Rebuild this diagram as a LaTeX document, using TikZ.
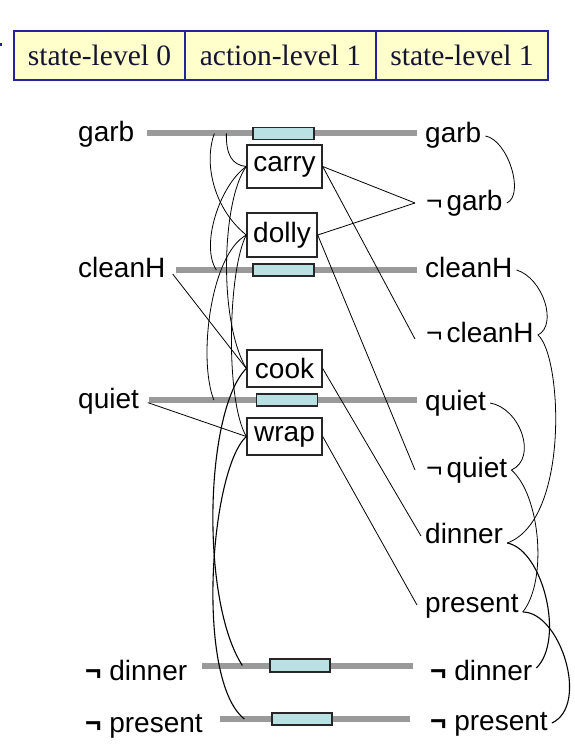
\documentclass[tikz,border=0pt]{standalone}
\usepackage{fontspec}
\setmainfont{Liberation Serif}
\newfontfamily\arialf{Liberation Sans}
\usetikzlibrary{calc}
\pgfdeclarelayer{bg}
\pgfsetlayers{bg,main}
\definecolor{hdrfill}{HTML}{FFFFCC}
\definecolor{hdrline}{HTML}{2323A0}
\definecolor{hdrtext}{HTML}{141432}
\definecolor{noopfill}{HTML}{B9E0E2}
\definecolor{persistgray}{HTML}{9A9A9A}
\newcommand{\thinneg}{¬\hspace{4pt}}
\begin{document}
\begin{tikzpicture}[x=1pt,y=-1pt,
  hdr/.style={draw=hdrline, fill=hdrfill, line width=1.5pt, minimum height=49pt, inner sep=0pt,
    font=\fontsize{29.5}{32}\selectfont, text=hdrtext, anchor=center},
  prop/.style={font=\arialf\fontsize{28}{30}\selectfont, inner xsep=4pt, inner ysep=0pt,
    text height=19pt, text depth=5pt, anchor=base west},
  act/.style={draw=black!85, line width=1.4pt, fill=white, font=\arialf\fontsize{28}{30}\selectfont, inner sep=0pt},
  noop/.style={draw=black!85, line width=1.3pt, fill=noopfill, minimum width=61pt, minimum height=12pt, inner sep=0pt},
  persist/.style={draw=persistgray, line width=6pt},
  link/.style={draw=black, line width=0.8pt},
  mutex/.style={draw=black, line width=0.8pt},
  mutexs/.style={draw=black, line width=1.1pt}
]
\useasboundingbox (0,0) rectangle (574,746);

% header
\node[hdr, minimum width=171pt] (h0) at (99.5,55.5) {state-level 0};
\node[hdr, minimum width=191pt] (h1) at (280.5,55.5) {action-level 1};
\node[hdr, minimum width=172pt] (h2) at (462,55.5) {state-level 1};
\fill[hdrline] (0,43) rectangle (2,46);

% state level 0
\node[prop] (garbL) at (74,142) {garb};
\node[prop] (cleanL) at (74,277) {cleanH};
\node[prop] (quietL) at (74,408) {quiet};
\node[prop] (ndinL) at (81,680) {{\bfseries ¬} dinner};
\node[prop] (npreL) at (81,732) {{\bfseries ¬} present};

% state level 1
\node[prop] (garbR) at (421,143) {garb};
\node[prop] (ngarbR) at (422,210) {\thinneg garb};
\node[prop] (cleanR) at (421,277) {cleanH};
\node[prop] (ncleanR) at (422,342) {\thinneg cleanH};
\node[prop] (quietR) at (421,410) {quiet};
\node[prop] (nquietR) at (422,477) {\thinneg quiet};
\node[prop] (dinnerR) at (421,543) {dinner};
\node[prop] (presentR) at (421,612) {present};
\node[prop] (ndinR) at (426,680) {{\bfseries ¬} dinner};
\node[prop] (npreR) at (426,730) {{\bfseries ¬} present};

% no-op actions
\node[noop] (noopG) at (283.5,133.5) {};
\node[noop] (noopC) at (283.5,270) {};
\node[noop] (noopQ) at (287,400) {};
\node[noop, minimum width=60pt, minimum height=13pt] (noopD) at (300,665.5) {};
\node[noop, minimum width=60pt] (noopP) at (302,719) {};

% actions
\node[act, minimum width=75pt, minimum height=43pt] (carry) at (284.5,166.5) {carry};
\node[act, minimum width=70pt, minimum height=44pt] (dolly) at (282,235) {dolly};
\node[act, minimum width=75pt, minimum height=37pt] (cook) at (284.5,368.5) {cook};
\node[act, minimum width=75pt, minimum height=37pt] (wrap) at (284.5,436.5) {wrap};

% persistence lines
\begin{pgfonlayer}{bg}
\draw[persist, shorten <=9pt, shorten >=4pt] (garbL.east |- noopG.center) -- (garbR.west |- noopG.center);
\draw[persist, shorten <=6pt, shorten >=4pt] (cleanL.east |- noopC.center) -- (cleanR.west |- noopC.center);
\draw[persist, shorten <=6pt, shorten >=4pt] (quietL.east |- noopQ.center) -- (quietR.west |- noopQ.center);
\draw[persist, shorten <=11pt, shorten >=13pt] (ndinL.east |- noopD.center) -- (ndinR.west |- noopD.center);
\draw[persist, shorten <=13pt, shorten >=16pt] (npreL.east |- noopP.center) -- (npreR.west |- noopP.center);
\end{pgfonlayer}

% preconditions
\draw[link, shorten <=5pt] (cleanL.east) -- (cook.west);
\draw[link, shorten <=5pt] (quietL.east) -- (wrap.west);

% effects
\draw[link] (carry.east) -- ([xshift=-7pt]ngarbR.west);
\draw[link] (dolly.east) -- ([xshift=-7pt]ngarbR.west);
\draw[link] (carry.east) -- ([xshift=-7pt,yshift=-4pt]ncleanR.west);
\draw[link] (dolly.east) -- ([xshift=-7pt]nquietR.west);
\draw[link] (cook.east) -- (dinnerR.west);
\draw[link] (wrap.east) -- ([xshift=-4pt]presentR.west);

% action mutexes
\draw[mutex] ([xshift=-26pt]noopG.west) .. controls (226,155) and (232,165) .. (carry.west);
\draw[mutex] ([xshift=-38pt]noopG.west) .. controls (203,165) and (215,210) .. (dolly.west);
\draw[mutex] (carry.west) .. controls (220,185) and (200,245) .. ([xshift=-36pt]noopC.west);
\draw[mutex] (carry.west) .. controls (222,200) and (218,320) .. (cook.west);
\draw[mutex] (dolly.west) .. controls (210,255) and (198,360) .. ([xshift=-42pt]noopQ.west);
\draw[mutex] (dolly.west) .. controls (228,270) and (225,400) .. (wrap.west);
\draw[mutexs] (cook.west) .. controls (205,410) and (200,600) .. ([xshift=-27pt]noopD.west);
\draw[mutexs] (wrap.west) .. controls (210,470) and (195,680) .. ([xshift=-27pt]noopP.west);

% state mutexes
\draw[mutex] (garbR.east) .. controls (508,140) and (525,195) .. (ngarbR.east);
\draw[mutex] (cleanR.east) .. controls (543,278) and (558,325) .. (ncleanR.east);
\draw[mutex] (ncleanR.east) .. controls (562,355) and (570,520) .. (dinnerR.base east);
\draw[mutex] (quietR.east) .. controls (520,408) and (538,458) .. (nquietR.east);
\draw[mutex] (nquietR.east) .. controls (540,495) and (548,580) .. (presentR.base east);
\draw[mutexs] (dinnerR.base east) .. controls (543,550) and (565,640) .. ([yshift=5pt]ndinR.east);
\draw[mutexs] (presentR.base east) .. controls (560,612) and (590,705) .. (npreR.east);
\end{tikzpicture}
\end{document}
